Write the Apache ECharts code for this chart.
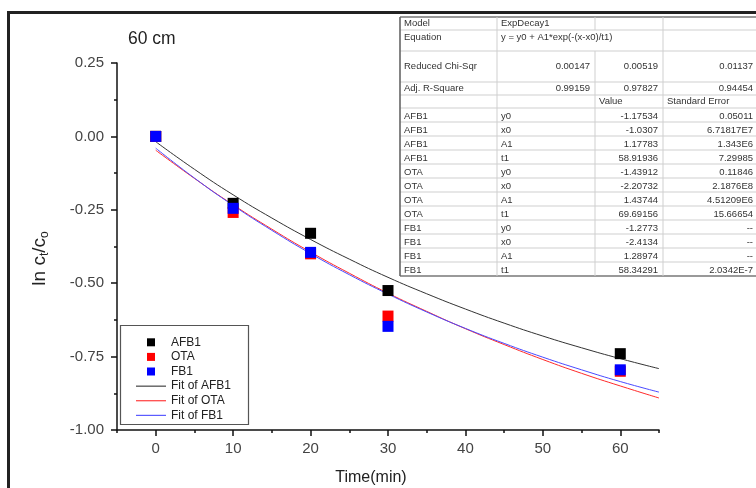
<!DOCTYPE html>
<html>
<head>
<meta charset="utf-8" />
<script src="https://cdn.jsdelivr.net/npm/echarts@6/dist/echarts.min.js"></script>
<style>
  html, body { margin: 0; padding: 0; background: #fff; }
</style>
</head>
<body>
<div id="main" style="width:756px;height:488px;"></div>
<script>
// measured points
var timeX = [0, 10, 20, 30, 60];
var afb1 = [0, -0.228, -0.33, -0.525, -0.74];
var ota = [0, -0.259, -0.40, -0.612, -0.80];
var fb1 = [0, -0.245, -0.395, -0.647, -0.795];

// fitted curves
var fitX = [0, 5, 10, 15, 20, 25, 30, 35, 40, 45, 50, 55, 60, 65];
var fitAfb1 = [-0.018, -0.112, -0.199, -0.278, -0.351, -0.418, -0.480, -0.536, -0.588, -0.636, -0.680, -0.720, -0.757, -0.791];
var fitOta = [-0.047, -0.143, -0.233, -0.316, -0.394, -0.466, -0.534, -0.596, -0.655, -0.709, -0.760, -0.807, -0.850, -0.891];
var fitFb1 = [-0.040, -0.142, -0.235, -0.320, -0.399, -0.471, -0.537, -0.598, -0.654, -0.705, -0.752, -0.795, -0.835, -0.871];

var xMajorTicks = [0, 10, 20, 30, 40, 50, 60];

// fit result table
var tableRows = [
    ['Model', 'ExpDecay1', '', ''],
    ['Equation', 'y = y0 + A1*exp(-(x-x0)/t1)', '', ''],
    ['Reduced Chi-Sqr', '0.00147', '0.00519', '0.01137'],
    ['Adj. R-Square', '0.99159', '0.97827', '0.94454'],
    ['', '', 'Value', 'Standard Error'],
    ['AFB1', 'y0', '-1.17534', '0.05011'],
    ['AFB1', 'x0', '-1.0307', '6.71817E7'],
    ['AFB1', 'A1', '1.17783', '1.343E6'],
    ['AFB1', 't1', '58.91936', '7.29985'],
    ['OTA', 'y0', '-1.43912', '0.11846'],
    ['OTA', 'x0', '-2.20732', '2.1876E8'],
    ['OTA', 'A1', '1.43744', '4.51209E6'],
    ['OTA', 't1', '69.69156', '15.66654'],
    ['FB1', 'y0', '-1.2773', '--'],
    ['FB1', 'x0', '-2.4134', '--'],
    ['FB1', 'A1', '1.28974', '--'],
    ['FB1', 't1', '58.34291', '2.0342E-7']
];

function pairs(xs, ys) {
    return xs.map(function (x, i) { return [x, ys[i]]; });
}

// table geometry
var rowLines = [17, 30, 51, 82, 95, 108, 122, 136, 150, 164, 178, 192, 206, 220, 234, 248, 262, 276];
var colLines = [400, 497, 595, 663, 758];
var textY = [23.5, 37, 66, 88.5, 101.5];

var tbl = [];
// horizontal lines
rowLines.forEach(function (y, i) {
    var outer = (i === 0 || i === rowLines.length - 1);
    tbl.push({
        type: 'line',
        shape: { x1: 400, y1: y, x2: 758, y2: y },
        style: { stroke: outer ? '#777' : '#cfcfcf', lineWidth: outer ? 1.6 : 1 },
        z: 11
    });
});
// vertical lines
colLines.forEach(function (x, c) {
    var outer = (c === 0 || c === colLines.length - 1);
    for (var r = 0; r < rowLines.length - 1; r++) {
        if (c === 2 && r === 1) continue; // equation cell spans two columns
        tbl.push({
            type: 'line',
            shape: { x1: x, y1: rowLines[r], x2: x, y2: rowLines[r + 1] },
            style: { stroke: outer ? '#666' : '#cfcfcf', lineWidth: outer ? 1.6 : 1 },
            z: 11
        });
    }
});
// cell texts
tableRows.forEach(function (row, r) {
    var y = r < textY.length ? textY[r] : (rowLines[r + 1] + rowLines[r]) / 2 + 1;
    row.forEach(function (txt, c) {
        if (!txt) return;
        var numeric = /^-?[0-9.]+(E-?[0-9]+)?$|^--$/.test(txt) && !(r >= 5 && c === 1);
        var x, align;
        if (c === 0) { x = 404; align = 'left'; }
        else if (numeric) { x = colLines[c + 1] - 5; align = 'right'; }
        else { x = colLines[c] + 4; align = 'left'; }
        tbl.push({
            type: 'text',
            x: x,
            y: y,
            style: {
                text: txt,
                fill: '#333',
                font: '9.5px "Liberation Sans", Arial, sans-serif',
                textAlign: align,
                align: align,
                textVerticalAlign: 'middle',
                verticalAlign: 'middle'
            },
            z: 12
        });
    });
});

var chart = echarts.init(document.getElementById('main'));

var sqIcon = 'path://M0,0M30,8M11,0L19,0L19,8L11,8Z';
var lineIcon = 'path://M0,0M30,8M0,3.5L30,3.5L30,4.6L0,4.6Z';
var font = '"Liberation Sans", Arial, sans-serif';

var option = {
    backgroundColor: '#fff',
    animation: false,
    title: {
        text: '60 cm',
        left: 123,
        top: 25,
        textStyle: { fontFamily: font, fontSize: 17.5, fontWeight: 'normal', color: '#222' }
    },
    grid: { left: 117, right: 97, top: 63, bottom: 58, outerBoundsMode: 'none', containLabel: false },
    legend: {
        orient: 'vertical',
        left: 136,
        top: 335,
        padding: 0,
        itemGap: 0,
        itemWidth: 30,
        itemHeight: 8,
        textStyle: { fontFamily: font, fontSize: 12, color: '#222', lineHeight: 14.6 },
        data: [
            { name: 'AFB1', icon: sqIcon },
            { name: 'OTA', icon: sqIcon },
            { name: 'FB1', icon: sqIcon },
            { name: 'Fit of AFB1', icon: lineIcon },
            { name: 'Fit of OTA', icon: lineIcon },
            { name: 'Fit of FB1', icon: lineIcon }
        ]
    },
    xAxis: [{
        type: 'value',
        min: -5,
        max: 65,
        interval: 5,
        name: 'Time(min)',
        nameLocation: 'middle',
        nameGap: 40,
        nameTextStyle: { fontFamily: font, fontSize: 16, color: '#222', padding: [0, 34, 0, 0] },
        axisLine: { onZero: false, lineStyle: { color: '#111', width: 1.5 } },
        axisTick: { inside: false, length: 3, lineStyle: { color: '#111', width: 1.5 } },
        axisLabel: {
            margin: 11,
            fontFamily: font,
            fontSize: 15,
            color: '#444',
            formatter: function (v) { return (v % 10 === 0) ? String(v) : ''; }
        },
        splitLine: { show: false }
    }, {
        type: 'value',
        min: -5,
        max: 65,
        position: 'bottom',
        axisLine: { show: false, onZero: false },
        axisLabel: { show: false },
        axisTick: { show: true, length: 6, customValues: xMajorTicks, lineStyle: { color: '#111', width: 1.5 } },
        splitLine: { show: false }
    }],
    yAxis: {
        type: 'value',
        min: -1,
        max: 0.25,
        interval: 0.25,
        name: '{m|ln c}{s|t}{m|/c}{s|o}',
        nameLocation: 'middle',
        nameRotate: 90,
        nameGap: 66,
        nameTextStyle: {
            padding: [0, 24, 0, 0],
            rich: {
                m: { fontFamily: font, fontSize: 19, color: '#222' },
                s: { fontFamily: font, fontSize: 12, color: '#222', padding: [10, 0, 0, 0] }
            }
        },
        axisLine: { show: true, onZero: false, lineStyle: { color: '#111', width: 1.5 } },
        axisTick: { inside: false, length: 6, lineStyle: { color: '#111', width: 1.5 } },
        minorTick: { show: true, splitNumber: 2, length: 3, lineStyle: { color: '#111', width: 1.5 } },
        axisLabel: {
            margin: 13,
            fontFamily: font,
            fontSize: 15,
            color: '#444',
            formatter: function (v) { return v.toFixed(2); }
        },
        splitLine: { show: false },
        minorSplitLine: { show: false }
    },
    graphic: [{
        type: 'rect',
        shape: { x: 8.5, y: 12.5, width: 820, height: 600 },
        style: { fill: 'none', stroke: '#222', lineWidth: 3 },
        z: 0
    }, {
        type: 'rect',
        shape: { x: 120.5, y: 325.5, width: 128, height: 99 },
        style: { fill: '#fff', stroke: '#555', lineWidth: 1.2 },
        z: 1
    }, {
        type: 'rect',
        shape: { x: 400, y: 17, width: 358, height: 259 },
        style: { fill: '#fff' },
        z: 10
    }].concat(tbl),
    series: [
        {
            name: 'Fit of AFB1', type: 'line', smooth: true, symbol: 'none',
            itemStyle: { color: '#333' }, lineStyle: { color: '#333', width: 1 },
            data: pairs(fitX, fitAfb1), z: 3
        },
        {
            name: 'Fit of OTA', type: 'line', smooth: true, symbol: 'none',
            itemStyle: { color: '#ff2a2a' }, lineStyle: { color: '#ff2a2a', width: 1 },
            data: pairs(fitX, fitOta), z: 3
        },
        {
            name: 'Fit of FB1', type: 'line', smooth: true, symbol: 'none',
            itemStyle: { color: '#4a4aff' }, lineStyle: { color: '#4a4aff', width: 1 },
            data: pairs(fitX, fitFb1), z: 3
        },
        {
            name: 'AFB1', type: 'scatter', symbol: 'rect', symbolSize: 11,
            itemStyle: { color: '#000', opacity: 1 }, data: pairs(timeX, afb1), z: 4
        },
        {
            name: 'OTA', type: 'scatter', symbol: 'rect', symbolSize: 11,
            itemStyle: { color: '#ff0000', opacity: 1 }, data: pairs(timeX, ota), z: 4
        },
        {
            name: 'FB1', type: 'scatter', symbol: 'rect', symbolSize: 11,
            itemStyle: { color: '#0000ff', opacity: 1 }, data: pairs(timeX, fb1), z: 4
        }
    ]
};

chart.setOption(option);
</script>
</body>
</html>
